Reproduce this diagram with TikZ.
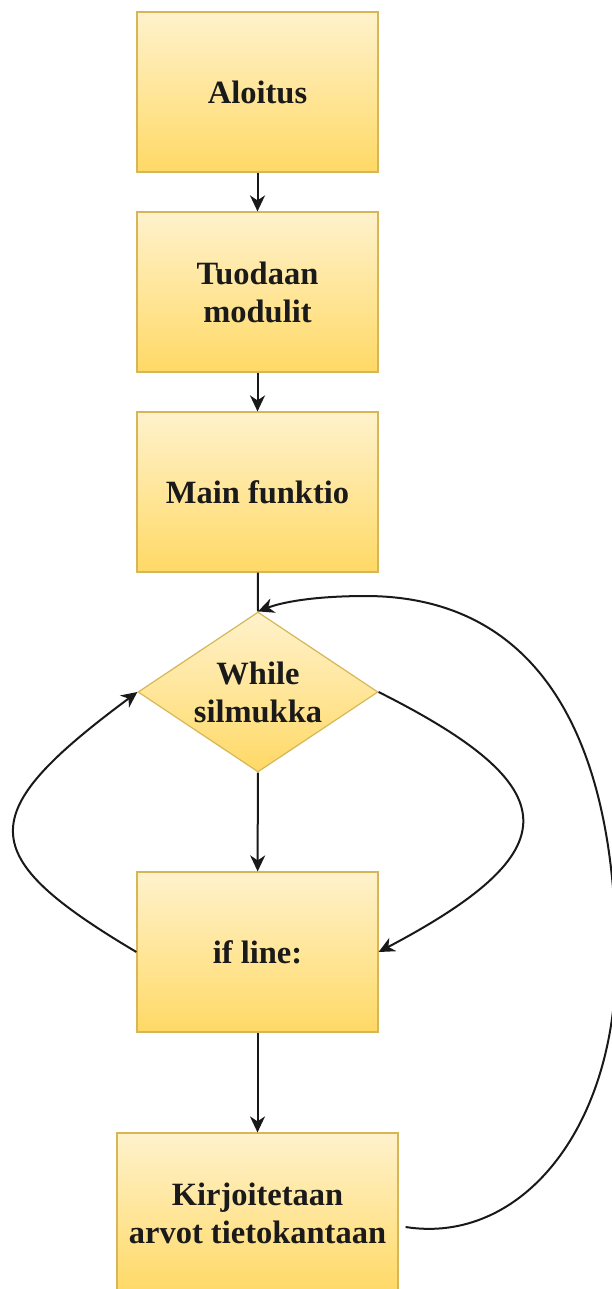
\documentclass[tikz,border=0pt]{standalone}
\usepackage{fontspec}
\setmainfont{Liberation Serif}
\usetikzlibrary{shapes.geometric,arrows.meta}
\definecolor{ytop}{HTML}{FFF2CC}
\definecolor{ybot}{HTML}{FFD966}
\definecolor{yline}{HTML}{D6B656}
\definecolor{txt}{HTML}{1A1A1A}
\begin{document}
\begin{tikzpicture}[x=1pt,y=-1pt,
  box/.style={draw=yline, line width=1.2pt, top color=ytop, bottom color=ybot,
    minimum width=241pt, minimum height=160pt, inner sep=0pt, align=center,
    text=txt, font=\fontsize{32.5}{38}\selectfont\bfseries},
  dia/.style={box, diamond, minimum width=240pt, minimum height=160pt, aspect=1.5},
  conn/.style={line width=2pt, draw=black!90},
  arr/.style={conn, -{Stealth[length=16pt,width=15pt,inset=5pt]}}]
\useasboundingbox (0,0) rectangle (612,1289);
\node[box] (a) at (257.5,92) {Aloitus};
\node[box] (t) at (257.5,292) {Tuodaan\\modulit};
\node[box] (m) at (257.5,492) {Main funktio};
\node[dia] (w) at (258,692) {While\\silmukka};
\node[box] (i) at (257.5,952) {if line:};
\node[box, minimum width=281pt] (k) at (257.5,1213) {Kirjoitetaan\\arvot tietokantaan};
\draw[arr] (a) -- (t);
\draw[arr] (t) -- (m);
\draw[conn] (m) -- (w.north);
\draw[arr] (w) -- (i);
\draw[arr] (i) -- (k);
\draw[arr] (i.west) .. controls (-27,855) and (-27,814) .. (w.west);
\draw[arr] (w.east) .. controls (570,788) and (570,851) .. (i.east);
\draw[arr] ([shift={(7,14)}]k.east) .. controls (520,1245) and (616,1130) .. (616,960)
  .. controls (616,740) and (540,597) .. (367,596)
  .. controls (310,596) and (280,603) .. (w.north);
\end{tikzpicture}
\end{document}
